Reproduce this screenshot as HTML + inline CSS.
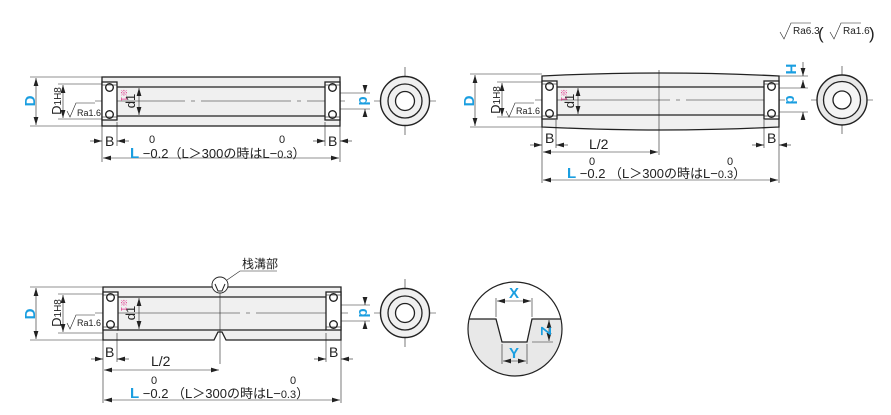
<!DOCTYPE html>
<html><head><meta charset="utf-8"><style>
html,body{margin:0;padding:0;background:#fff}
svg{display:block}
text{font-family:"Liberation Sans","Noto Sans CJK JP",sans-serif;fill:#222}
.b{fill:#1a9ee0;font-weight:bold}
.p{fill:#e0338a}
</style></head><body>
<svg width="891" height="415" viewBox="0 0 891 415" xmlns="http://www.w3.org/2000/svg">
<defs>
<marker id="a" viewBox="0 0 10 6" refX="10" refY="3" markerWidth="8" markerHeight="5" orient="auto-start-reverse" markerUnits="userSpaceOnUse"><path d="M0,0L10,3L0,6z" fill="#222"/></marker>
<g id="brg">
<rect x="0" y="0" width="15" height="38" fill="#fff" stroke="#222" stroke-width="1.3"/>
<circle cx="7.5" cy="5.5" r="3.8" fill="#fff" stroke="#222" stroke-width="1.4"/>
<circle cx="7.5" cy="32.5" r="3.8" fill="#fff" stroke="#222" stroke-width="1.4"/>
<line x1="0" y1="3" x2="15" y2="3" stroke="#222" stroke-width="0.6"/>
<line x1="0" y1="35" x2="15" y2="35" stroke="#222" stroke-width="0.6"/>
</g>
<g id="end">
<line x1="-31" y1="0" x2="31" y2="0" stroke="#222" stroke-width="0.6"/>
<line x1="0" y1="-34" x2="0" y2="34" stroke="#222" stroke-width="0.6"/>
<circle r="24.5" fill="#f0f0f0" stroke="#222" stroke-width="1.4"/>
<circle r="17" fill="none" stroke="#222" stroke-width="1.3"/>
<circle r="9.5" fill="#fff" stroke="#222" stroke-width="1.3"/>
</g>
</defs>
<g stroke="#222" fill="none" stroke-width="0.6">
<!-- VIEW 1 -->
<rect x="102" y="77" width="238" height="49" fill="#f0f0f0" stroke-width="1.3"/>
<line x1="117" y1="87" x2="325" y2="87" stroke-width="1.3"/>
<line x1="117" y1="116" x2="325" y2="116" stroke-width="1.3"/>
<line x1="95" y1="101" x2="345" y2="101" stroke-dasharray="90,6,4,6"/>
<line x1="30" y1="77" x2="102" y2="77"/><line x1="30" y1="126" x2="102" y2="126"/>
<line x1="36" y1="78" x2="36" y2="125" marker-start="url(#a)" marker-end="url(#a)"/>
<line x1="58" y1="84" x2="102" y2="84"/><line x1="58" y1="119" x2="102" y2="119"/>
<line x1="63" y1="85" x2="63" y2="118" marker-start="url(#a)" marker-end="url(#a)"/>
<line x1="139" y1="88" x2="139" y2="115" marker-start="url(#a)" marker-end="url(#a)"/>
<line x1="340" y1="93" x2="370" y2="93"/><line x1="340" y1="109" x2="370" y2="109"/>
<line x1="365" y1="85" x2="365" y2="93" marker-end="url(#a)"/><line x1="365" y1="117" x2="365" y2="109" marker-end="url(#a)"/>
<line x1="102" y1="126" x2="102" y2="162"/><line x1="117" y1="122" x2="117" y2="146"/>
<line x1="325" y1="122" x2="325" y2="146"/><line x1="340" y1="126" x2="340" y2="162"/>
<line x1="90" y1="141" x2="102" y2="141" marker-end="url(#a)"/><line x1="129" y1="141" x2="117" y2="141" marker-end="url(#a)"/>
<line x1="313" y1="141" x2="325" y2="141" marker-end="url(#a)"/><line x1="352" y1="141" x2="340" y2="141" marker-end="url(#a)"/>
<line x1="103" y1="158" x2="339" y2="158" marker-start="url(#a)" marker-end="url(#a)"/>
<path d="M67,111l3,6l6,-14h19"/>
<!-- VIEW 2 -->
<path d="M542,76Q660,70 779,76V127Q660,133 542,127Z" fill="#f0f0f0" stroke-width="1.3"/>
<line x1="556" y1="87" x2="764" y2="87" stroke-width="1.3"/>
<line x1="556" y1="115" x2="764" y2="115" stroke-width="1.3"/>
<line x1="535" y1="100" x2="785" y2="100" stroke-dasharray="135,6,4,6"/>
<line x1="659" y1="70" x2="659" y2="155"/>
<line x1="470" y1="74" x2="542" y2="74"/><line x1="470" y1="127" x2="542" y2="127"/>
<line x1="475" y1="75" x2="475" y2="126" marker-start="url(#a)" marker-end="url(#a)"/>
<line x1="497" y1="82" x2="542" y2="82"/><line x1="497" y1="117" x2="542" y2="117"/>
<line x1="502" y1="83" x2="502" y2="116" marker-start="url(#a)" marker-end="url(#a)"/>
<line x1="578" y1="88" x2="578" y2="114" marker-start="url(#a)" marker-end="url(#a)"/>
<line x1="779" y1="76" x2="808" y2="76"/><line x1="779" y1="88" x2="808" y2="88"/><line x1="779" y1="112" x2="808" y2="112"/>
<line x1="803" y1="62" x2="803" y2="76" marker-end="url(#a)"/><line x1="803" y1="80" x2="803" y2="88" marker-start="url(#a)"/>
<line x1="803" y1="112" x2="803" y2="120" marker-start="url(#a)"/>
<line x1="542" y1="127" x2="542" y2="183"/><line x1="556" y1="120" x2="556" y2="148"/>
<line x1="764" y1="120" x2="764" y2="148"/><line x1="779" y1="127" x2="779" y2="183"/>
<line x1="530" y1="145" x2="542" y2="145" marker-end="url(#a)"/><line x1="568" y1="145" x2="556" y2="145" marker-end="url(#a)"/>
<line x1="752" y1="145" x2="764" y2="145" marker-end="url(#a)"/><line x1="791" y1="145" x2="779" y2="145" marker-end="url(#a)"/>
<line x1="543" y1="152" x2="658" y2="152" marker-start="url(#a)" marker-end="url(#a)"/>
<line x1="543" y1="180" x2="778" y2="180" marker-start="url(#a)" marker-end="url(#a)"/>
<path d="M506,111l3,6l6,-14h19"/>
<path d="M780,32l4,7l7,-16h20"/><path d="M830,32l4,7l7,-16h20"/>
<!-- VIEW 3 -->
<path d="M103,287H341V340H226L222,332H218L214,340H103Z" fill="#f0f0f0" stroke-width="1.3"/>
<line x1="117" y1="297" x2="326" y2="297" stroke-width="1.3"/>
<line x1="117" y1="330" x2="326" y2="330" stroke-width="1.3"/>
<line x1="95" y1="313" x2="348" y2="313" stroke-dasharray="145,6,4,6"/>
<line x1="220" y1="280" x2="220" y2="364"/>
<circle cx="220" cy="285" r="8" fill="#fff" stroke-width="0.9"/>
<path d="M215,284L218,291H222L225,284" stroke-width="1"/>
<path d="M227,280L240,271H277"/>
<line x1="30" y1="287" x2="103" y2="287"/><line x1="30" y1="340" x2="103" y2="340"/>
<line x1="36" y1="288" x2="36" y2="339" marker-start="url(#a)" marker-end="url(#a)"/>
<line x1="58" y1="294" x2="103" y2="294"/><line x1="58" y1="333" x2="103" y2="333"/>
<line x1="63" y1="295" x2="63" y2="332" marker-start="url(#a)" marker-end="url(#a)"/>
<line x1="139" y1="298" x2="139" y2="329" marker-start="url(#a)" marker-end="url(#a)"/>
<line x1="341" y1="305" x2="370" y2="305"/><line x1="341" y1="321" x2="370" y2="321"/>
<line x1="365" y1="297" x2="365" y2="305" marker-end="url(#a)"/><line x1="365" y1="329" x2="365" y2="321" marker-end="url(#a)"/>
<line x1="103" y1="340" x2="103" y2="403"/><line x1="117" y1="333" x2="117" y2="362"/>
<line x1="326" y1="333" x2="326" y2="362"/><line x1="341" y1="340" x2="341" y2="403"/>
<line x1="91" y1="359" x2="103" y2="359" marker-end="url(#a)"/><line x1="129" y1="359" x2="117" y2="359" marker-end="url(#a)"/>
<line x1="314" y1="359" x2="326" y2="359" marker-end="url(#a)"/><line x1="353" y1="359" x2="341" y2="359" marker-end="url(#a)"/>
<line x1="104" y1="370" x2="219" y2="370" marker-start="url(#a)" marker-end="url(#a)"/>
<line x1="104" y1="400" x2="340" y2="400" marker-start="url(#a)" marker-end="url(#a)"/>
<path d="M67,323l3,6l6,-14h19"/>
<!-- detail circle -->
<clipPath id="c"><circle cx="515" cy="329" r="47"/></clipPath>
<path d="M460,319H496L502,342H527L532,319H570V380H460Z" fill="#e8e8e8" stroke="none" clip-path="url(#c)"/>
<path d="M467,319H496L502,342H527L532,319H562" stroke-width="1.3" clip-path="url(#c)"/>
<circle cx="515" cy="329" r="47" stroke-width="1.2"/>
<line x1="496" y1="317" x2="496" y2="298"/><line x1="532" y1="317" x2="532" y2="298"/>
<line x1="497" y1="301" x2="531" y2="301" marker-start="url(#a)" marker-end="url(#a)"/>
<line x1="502" y1="344" x2="502" y2="364"/><line x1="527" y1="344" x2="527" y2="364"/>
<line x1="503" y1="361" x2="526" y2="361" marker-start="url(#a)" marker-end="url(#a)"/>
<line x1="532" y1="342" x2="553" y2="342"/>
<line x1="549" y1="320" x2="549" y2="341" marker-start="url(#a)" marker-end="url(#a)"/>
</g>
<use href="#brg" x="102" y="82"/><use href="#brg" x="325" y="82"/>
<use href="#brg" x="542" y="81"/><use href="#brg" x="764" y="81"/>
<use href="#brg" x="103" y="292"/><use href="#brg" x="326" y="292"/>
<use href="#end" x="405" y="101"/>
<g transform="translate(842,100)"><line x1="-31" y1="0" x2="31" y2="0" stroke="#222" stroke-width="0.6"/><line x1="0" y1="-34" x2="0" y2="34" stroke="#222" stroke-width="0.6"/><circle r="25" fill="#e8e8e8" stroke="#222" stroke-width="1.4"/><circle r="18.5" fill="#f4f4f4" stroke="#222" stroke-width="1.3"/><circle r="9" fill="#fff" stroke="#222" stroke-width="1.3"/></g>
<use href="#end" x="405" y="313"/>
<!-- texts view1 -->
<text class="b" font-size="15" transform="translate(35,101) rotate(-90)" text-anchor="middle">D</text>
<text font-size="13" transform="translate(61,101) rotate(-90)" text-anchor="middle">D<tspan font-size="10">1H8</tspan></text>
<text font-size="9" x="77" y="116">Ra1.6</text>
<text font-size="13" transform="translate(135,101) rotate(-90)" text-anchor="middle">d1</text>
<text class="p" font-size="8" transform="translate(121,95) rotate(90)" text-anchor="middle">※1</text>
<text class="b" font-size="15" transform="translate(359,101) rotate(90)" text-anchor="middle">d</text>
<text font-size="14" x="105" y="146">B</text><text font-size="14" x="328" y="146">B</text>
<text font-size="11" x="149" y="143">0</text><text font-size="11" x="279" y="143">0</text>
<text font-size="13" x="130" y="158"><tspan class="b" font-size="15">L</tspan> −0.2（L＞300の時はL−<tspan font-size="11">0.3</tspan>）</text>
<!-- view2 -->
<text font-size="10" x="793" y="34">Ra6.3</text><text font-size="17" x="818" y="39">(</text>
<text font-size="10" x="843" y="34">Ra1.6</text><text font-size="17" x="869" y="39">)</text>
<text class="b" font-size="15" transform="translate(474,101) rotate(-90)" text-anchor="middle">D</text>
<text font-size="13" transform="translate(500,100) rotate(-90)" text-anchor="middle">D<tspan font-size="10">1H8</tspan></text>
<text font-size="9" x="516" y="114">Ra1.6</text>
<text font-size="13" transform="translate(574,101) rotate(-90)" text-anchor="middle">d1</text>
<text class="p" font-size="8" transform="translate(561,95) rotate(90)" text-anchor="middle">※1</text>
<text class="b" font-size="15" transform="translate(786,69) rotate(90)" text-anchor="middle">H</text>
<text class="b" font-size="15" transform="translate(786,100) rotate(90)" text-anchor="middle">d</text>
<text font-size="14" x="545" y="143">B</text><text font-size="14" x="767" y="143">B</text>
<text font-size="14" x="589" y="149">L/2</text>
<text font-size="11" x="589" y="165">0</text><text font-size="11" x="727" y="165">0</text>
<text font-size="13" x="567" y="178"><tspan class="b" font-size="15">L</tspan> −0.2 （L＞300の時はL−<tspan font-size="11">0.3</tspan>）</text>
<!-- view3 -->
<text font-size="12" x="242" y="268">栈溝部</text>
<text class="b" font-size="15" transform="translate(35,314) rotate(-90)" text-anchor="middle">D</text>
<text font-size="13" transform="translate(61,313) rotate(-90)" text-anchor="middle">D<tspan font-size="10">1H8</tspan></text>
<text font-size="9" x="77" y="326">Ra1.6</text>
<text font-size="13" transform="translate(135,313) rotate(-90)" text-anchor="middle">d1</text>
<text class="p" font-size="8" transform="translate(121,305) rotate(90)" text-anchor="middle">※1</text>
<text class="b" font-size="15" transform="translate(359,313) rotate(90)" text-anchor="middle">d</text>
<text font-size="14" x="105" y="357">B</text><text font-size="14" x="329" y="357">B</text>
<text font-size="14" x="151" y="366">L/2</text>
<text font-size="11" x="151" y="384">0</text><text font-size="11" x="290" y="384">0</text>
<text font-size="13" x="130" y="398"><tspan class="b" font-size="15">L</tspan> −0.2 （L＞300の時はL−<tspan font-size="11">0.3</tspan>）</text>
<text class="b" font-size="15" x="509" y="298">X</text>
<text class="b" font-size="15" x="509" y="358">Y</text>
<text class="b" font-size="15" transform="translate(541,331) rotate(90)" text-anchor="middle">Z</text>
</svg>
</body></html>
